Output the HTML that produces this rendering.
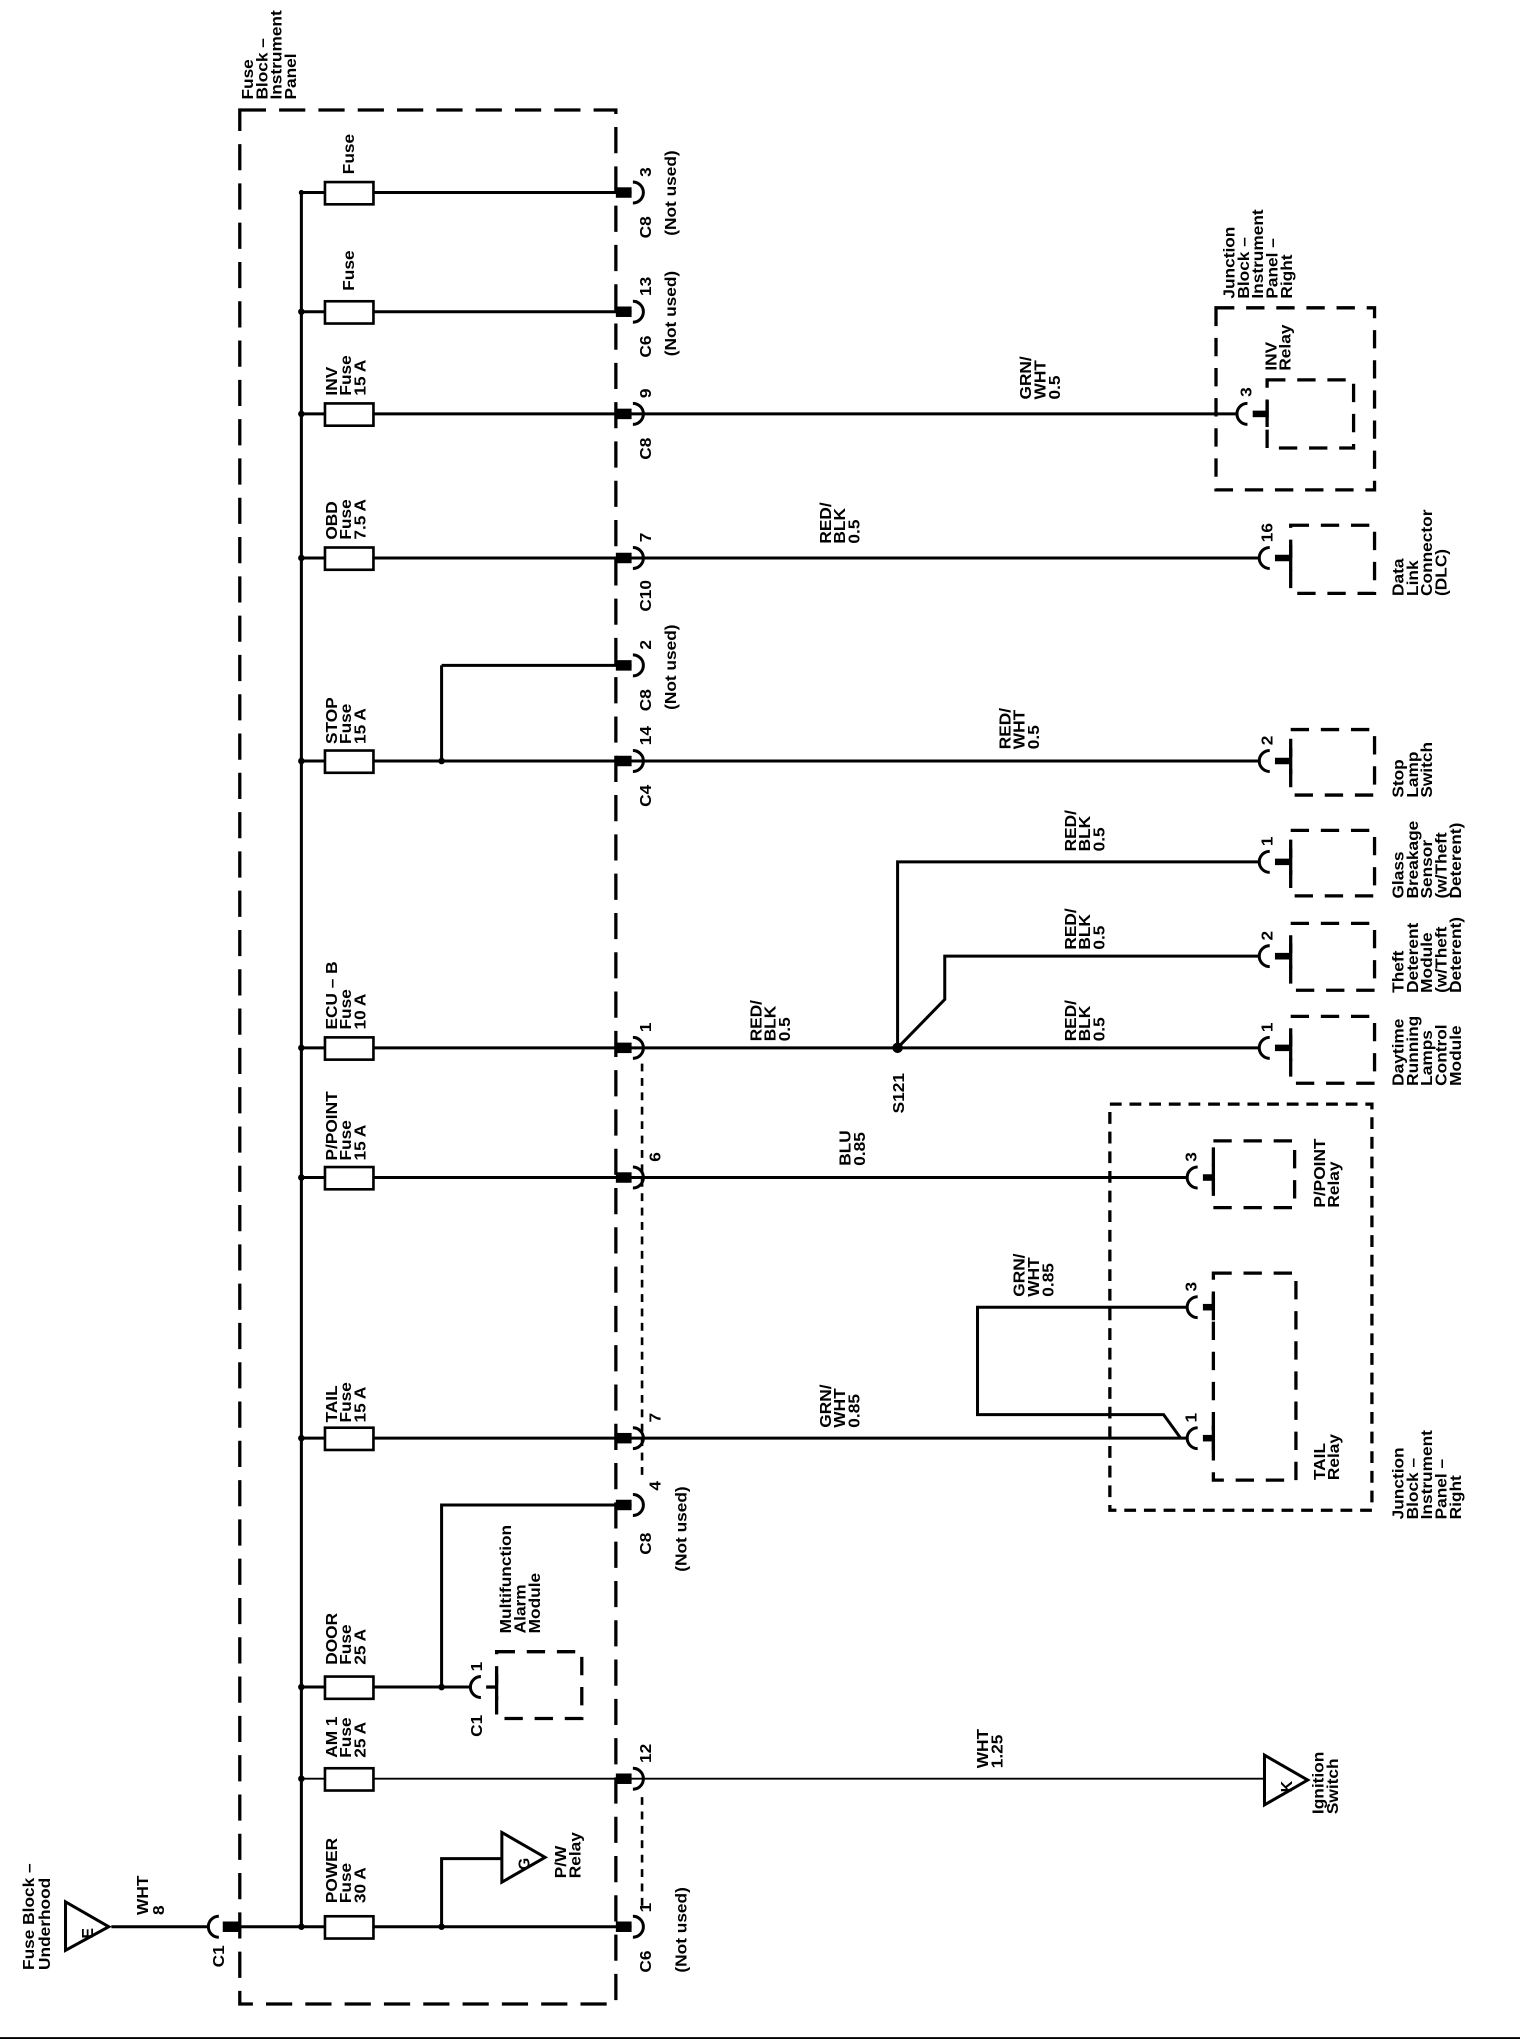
<!DOCTYPE html>
<html><head><meta charset="utf-8"><style>
html,body{margin:0;padding:0;background:#fff;}
svg{display:block;}
text{font-family:"Liberation Sans",Arial,sans-serif;font-weight:bold;font-size:12px;fill:#000;}
</style></head><body>
<svg width="1520" height="2042" viewBox="0 0 1160 1559" preserveAspectRatio="none" xmlns="http://www.w3.org/2000/svg">
<rect width="1160" height="1559" fill="#fff"/>
<line x1="0" y1="1556" x2="1160" y2="1556" stroke="#000" stroke-width="1.5"/>

<rect x="183" y="84" width="287" height="1446" fill="none" stroke="#000" stroke-width="2.5" stroke-dasharray="20 10"/>
<line x1="490" y1="812" x2="490" y2="1128" stroke="#000" stroke-width="2" stroke-dasharray="6 5"/>
<line x1="490" y1="1372" x2="490" y2="1460" stroke="#000" stroke-width="2" stroke-dasharray="6 5"/>

<g stroke="#000" stroke-width="2.3" fill="none">
<line x1="230" y1="147" x2="230" y2="1471"/>
<line x1="230" y1="147" x2="482" y2="147"/>
<line x1="230" y1="238" x2="482" y2="238"/>
<line x1="230" y1="316" x2="944" y2="316"/>
<line x1="230" y1="426" x2="961" y2="426"/>
<line x1="337" y1="508" x2="482" y2="508"/>
<line x1="337" y1="508" x2="337" y2="581"/>
<line x1="230" y1="581" x2="961" y2="581"/>
<line x1="230" y1="800" x2="961" y2="800"/>
<polyline points="685,800 685,658 961,658"/>
<polyline points="685,800 721,763 721,730 961,730"/>
<line x1="230" y1="899" x2="906" y2="899"/>
<line x1="230" y1="1098" x2="906" y2="1098"/>
<polyline points="906,998 746,998 746,1080 888,1080 901,1098"/>
<polyline points="482,1149 337,1149 337,1288"/>
<line x1="230" y1="1288" x2="359" y2="1288"/>
<line x1="85" y1="1471" x2="160" y2="1471"/>
<line x1="182" y1="1471" x2="482" y2="1471"/>
<polyline points="337,1471 337,1419 383,1419"/>
</g>
<g stroke="#000" stroke-width="1.4" fill="none">
<line x1="230" y1="1358" x2="965" y2="1358"/>
</g>
<g fill="#000">
<circle cx="230" cy="147" r="2"/><circle cx="230" cy="238" r="2.5"/><circle cx="230" cy="316" r="2.5"/><circle cx="230" cy="426" r="2.5"/><circle cx="230" cy="581" r="2.5"/><circle cx="230" cy="800" r="2.5"/><circle cx="230" cy="899" r="2.5"/><circle cx="230" cy="1098" r="2.5"/><circle cx="230" cy="1288" r="2.5"/><circle cx="230" cy="1358" r="2.5"/><circle cx="230" cy="1471" r="2.5"/>
<circle cx="337" cy="581" r="2.5"/><circle cx="337" cy="1288" r="2.5"/><circle cx="337" cy="1471" r="2.5"/>
<circle cx="685" cy="800" r="4"/>
</g>
<g fill="#fff" stroke="#000" stroke-width="2">
<rect x="248" y="139" width="37" height="17"/><rect x="248" y="230" width="37" height="17"/><rect x="248" y="308" width="37" height="17"/><rect x="248" y="418" width="37" height="17"/><rect x="248" y="573" width="37" height="17"/><rect x="248" y="792" width="37" height="17"/><rect x="248" y="891" width="37" height="17"/><rect x="248" y="1090" width="37" height="17"/><rect x="248" y="1280" width="37" height="17"/><rect x="248" y="1350" width="37" height="17"/><rect x="248" y="1463" width="37" height="17"/>
</g>
<g fill="#000">
<rect x="470" y="143" width="12" height="8"/><rect x="470" y="234" width="12" height="8"/><rect x="470" y="312" width="12" height="8"/><rect x="470" y="422" width="12" height="8"/><rect x="470" y="504" width="12" height="8"/><rect x="470" y="577" width="12" height="8"/><rect x="470" y="796" width="12" height="8"/><rect x="470" y="895" width="12" height="8"/><rect x="470" y="1094" width="12" height="8"/><rect x="470" y="1145" width="12" height="8"/><rect x="470" y="1354" width="12" height="8"/><rect x="470" y="1467" width="12" height="8"/>
<rect x="170" y="1467" width="13" height="8"/>
</g>
<g fill="none" stroke="#000" stroke-width="2.3">
<path d="M483,139 A8,8 0 0 1 483,155"/><path d="M483,230 A8,8 0 0 1 483,246"/><path d="M483,308 A8,8 0 0 1 483,324"/><path d="M483,418 A8,8 0 0 1 483,434"/><path d="M483,500 A8,8 0 0 1 483,516"/><path d="M483,573 A8,8 0 0 1 483,589"/><path d="M483,792 A8,8 0 0 1 483,808"/><path d="M483,891 A8,8 0 0 1 483,907"/><path d="M483,1090 A8,8 0 0 1 483,1106"/><path d="M483,1141 A8,8 0 0 1 483,1157"/><path d="M483,1350 A8,8 0 0 1 483,1366"/><path d="M483,1463 A8,8 0 0 1 483,1479"/>
<path d="M167,1463 A8,8 0 0 0 167,1479"/>
<path d="M952,308 A8,8 0 0 0 952,324"/>
<path d="M969,418 A8,8 0 0 0 969,434"/>
<path d="M969,573 A8,8 0 0 0 969,589"/>
<path d="M969,650 A8,8 0 0 0 969,666"/>
<path d="M969,722 A8,8 0 0 0 969,738"/>
<path d="M969,792 A8,8 0 0 0 969,808"/>
<path d="M914,891 A8,8 0 0 0 914,907"/>
<path d="M914,990 A8,8 0 0 0 914,1006"/>
<path d="M914,1090 A8,8 0 0 0 914,1106"/>
<path d="M367,1280 A8,8 0 0 0 367,1296"/>
</g>
<g stroke="#000" fill="none">
<line x1="956" y1="316" x2="967" y2="316" stroke-width="5"/><line x1="967" y1="306" x2="967" y2="326" stroke-width="2.5"/>
<line x1="973" y1="426" x2="985" y2="426" stroke-width="5"/><line x1="985" y1="416" x2="985" y2="436" stroke-width="2.5"/>
<line x1="973" y1="581" x2="985" y2="581" stroke-width="5"/><line x1="985" y1="571" x2="985" y2="591" stroke-width="2.5"/>
<line x1="973" y1="658" x2="985" y2="658" stroke-width="5"/><line x1="985" y1="648" x2="985" y2="668" stroke-width="2.5"/>
<line x1="973" y1="730" x2="985" y2="730" stroke-width="5"/><line x1="985" y1="720" x2="985" y2="740" stroke-width="2.5"/>
<line x1="973" y1="800" x2="985" y2="800" stroke-width="5"/><line x1="985" y1="790" x2="985" y2="810" stroke-width="2.5"/>
<line x1="918" y1="899" x2="926" y2="899" stroke-width="5"/><line x1="926" y1="889" x2="926" y2="909" stroke-width="2.5"/>
<line x1="918" y1="998" x2="926" y2="998" stroke-width="5"/><line x1="926" y1="988" x2="926" y2="1008" stroke-width="2.5"/>
<line x1="918" y1="1098" x2="926" y2="1098" stroke-width="5"/><line x1="926" y1="1088" x2="926" y2="1108" stroke-width="2.5"/>
<line x1="371" y1="1288" x2="379" y2="1288" stroke-width="2.5"/><line x1="379" y1="1278" x2="379" y2="1298" stroke-width="2.5"/>
</g>
<g fill="none" stroke="#000" stroke-width="2.5" stroke-dasharray="14 9">
<rect x="928" y="235" width="121" height="139"/>
<rect x="967" y="290" width="66" height="52"/>
<rect x="985" y="401" width="64" height="52"/>
<rect x="985" y="557" width="64" height="50"/>
<rect x="985" y="634" width="64" height="50"/>
<rect x="985" y="705" width="64" height="51"/>
<rect x="985" y="776" width="64" height="51"/>
<rect x="926" y="871" width="62" height="51"/>
<rect x="926" y="972" width="63" height="158"/>
<rect x="379" y="1261" width="65" height="51"/>
</g>
<rect x="847" y="843" width="200" height="310" fill="none" stroke="#000" stroke-width="2.5" stroke-dasharray="9 6"/>
<g fill="#fff" stroke="#000" stroke-width="2.3">
<polygon points="50,1452 50,1489 83,1471"/>
<polygon points="383,1399 383,1437 416,1418"/>
<polygon points="965,1340 965,1378 998,1359"/>
</g>
<g>
<text transform="translate(71,1476) rotate(-90)" text-anchor="middle">E</text>
<text transform="translate(404,1423) rotate(-90)" text-anchor="middle">G</text>
<text transform="translate(986,1364) rotate(-90)" text-anchor="middle">K</text>
</g>

<g>
<text transform="translate(26,1504) rotate(-90) scale(1.1,1)"><tspan x="0">Fuse Block –</tspan><tspan x="0" dy="12">Underhood</tspan></text>
<text transform="translate(113,1462) rotate(-90) scale(1.1,1)"><tspan x="0">WHT</tspan><tspan x="0" dy="12">8</tspan></text>
<text transform="translate(171,1502) rotate(-90) scale(1.1,1)">C1</text>
<text transform="translate(193,76) rotate(-90) scale(1.1,1)"><tspan x="0">Fuse</tspan><tspan x="0" dy="11">Block –</tspan><tspan x="0" dy="11">Instrument</tspan><tspan x="0" dy="11">Panel</tspan></text>

<text transform="translate(270,133) rotate(-90) scale(1.1,1)">Fuse</text>
<text transform="translate(270,222) rotate(-90) scale(1.1,1)">Fuse</text>
<text transform="translate(257,302) rotate(-90) scale(1.1,1)"><tspan x="0">INV</tspan><tspan x="0" dy="11">Fuse</tspan><tspan x="0" dy="11">15 A</tspan></text>
<text transform="translate(257,412) rotate(-90) scale(1.1,1)"><tspan x="0">OBD</tspan><tspan x="0" dy="11">Fuse</tspan><tspan x="0" dy="11">7.5 A</tspan></text>
<text transform="translate(257,568) rotate(-90) scale(1.1,1)"><tspan x="0">STOP</tspan><tspan x="0" dy="11">Fuse</tspan><tspan x="0" dy="11">15 A</tspan></text>
<text transform="translate(257,786) rotate(-90) scale(1.1,1)"><tspan x="0">ECU – B</tspan><tspan x="0" dy="11">Fuse</tspan><tspan x="0" dy="11">10 A</tspan></text>
<text transform="translate(257,886) rotate(-90) scale(1.1,1)"><tspan x="0">P/POINT</tspan><tspan x="0" dy="11">Fuse</tspan><tspan x="0" dy="11">15 A</tspan></text>
<text transform="translate(257,1086) rotate(-90) scale(1.1,1)"><tspan x="0">TAIL</tspan><tspan x="0" dy="11">Fuse</tspan><tspan x="0" dy="11">15 A</tspan></text>
<text transform="translate(257,1271) rotate(-90) scale(1.1,1)"><tspan x="0">DOOR</tspan><tspan x="0" dy="11">Fuse</tspan><tspan x="0" dy="11">25 A</tspan></text>
<text transform="translate(257,1342) rotate(-90) scale(1.1,1)"><tspan x="0">AM 1</tspan><tspan x="0" dy="11">Fuse</tspan><tspan x="0" dy="11">25 A</tspan></text>
<text transform="translate(257,1453) rotate(-90) scale(1.1,1)"><tspan x="0">POWER</tspan><tspan x="0" dy="11">Fuse</tspan><tspan x="0" dy="11">30 A</tspan></text>

<text transform="translate(497,182) rotate(-90) scale(1.1,1)">C8</text><text transform="translate(497,135) rotate(-90) scale(1.1,1)">3</text><text transform="translate(516,180) rotate(-90) scale(1.1,1)">(Not used)</text>
<text transform="translate(497,273) rotate(-90) scale(1.1,1)">C6</text><text transform="translate(497,226) rotate(-90) scale(1.1,1)">13</text><text transform="translate(516,272) rotate(-90) scale(1.1,1)">(Not used)</text>
<text transform="translate(497,351) rotate(-90) scale(1.1,1)">C8</text><text transform="translate(497,304) rotate(-90) scale(1.1,1)">9</text>
<text transform="translate(497,467) rotate(-90) scale(1.1,1)">C10</text><text transform="translate(497,414) rotate(-90) scale(1.1,1)">7</text>
<text transform="translate(497,543) rotate(-90) scale(1.1,1)">C8</text><text transform="translate(497,496) rotate(-90) scale(1.1,1)">2</text><text transform="translate(516,542) rotate(-90) scale(1.1,1)">(Not used)</text>
<text transform="translate(497,616) rotate(-90) scale(1.1,1)">C4</text><text transform="translate(497,569) rotate(-90) scale(1.1,1)">14</text>
<text transform="translate(497,788) rotate(-90) scale(1.1,1)">1</text>
<text transform="translate(504,887) rotate(-90) scale(1.1,1)">6</text>
<text transform="translate(504,1086) rotate(-90) scale(1.1,1)">7</text>
<text transform="translate(497,1187) rotate(-90) scale(1.1,1)">C8</text><text transform="translate(504,1138) rotate(-90) scale(1.1,1)">4</text><text transform="translate(524,1200) rotate(-90) scale(1.1,1)">(Not used)</text>
<text transform="translate(497,1346) rotate(-90) scale(1.1,1)">12</text>
<text transform="translate(497,1506) rotate(-90) scale(1.1,1)">C6</text><text transform="translate(497,1460) rotate(-90) scale(1.1,1)">1</text><text transform="translate(524,1506) rotate(-90) scale(1.1,1)">(Not used)</text>

<text transform="translate(787,305) rotate(-90) scale(1.1,1)"><tspan x="0">GRN/</tspan><tspan x="0" dy="11">WHT</tspan><tspan x="0" dy="11">0.5</tspan></text>
<text transform="translate(634,415) rotate(-90) scale(1.1,1)"><tspan x="0">RED/</tspan><tspan x="0" dy="11">BLK</tspan><tspan x="0" dy="11">0.5</tspan></text>
<text transform="translate(771,572) rotate(-90) scale(1.1,1)"><tspan x="0">RED/</tspan><tspan x="0" dy="11">WHT</tspan><tspan x="0" dy="11">0.5</tspan></text>
<text transform="translate(821,650) rotate(-90) scale(1.1,1)"><tspan x="0">RED/</tspan><tspan x="0" dy="11">BLK</tspan><tspan x="0" dy="11">0.5</tspan></text>
<text transform="translate(821,725) rotate(-90) scale(1.1,1)"><tspan x="0">RED/</tspan><tspan x="0" dy="11">BLK</tspan><tspan x="0" dy="11">0.5</tspan></text>
<text transform="translate(821,795) rotate(-90) scale(1.1,1)"><tspan x="0">RED/</tspan><tspan x="0" dy="11">BLK</tspan><tspan x="0" dy="11">0.5</tspan></text>
<text transform="translate(581,795) rotate(-90) scale(1.1,1)"><tspan x="0">RED/</tspan><tspan x="0" dy="11">BLK</tspan><tspan x="0" dy="11">0.5</tspan></text>
<text transform="translate(690,850) rotate(-90) scale(1.1,1)">S121</text>
<text transform="translate(649,890) rotate(-90) scale(1.1,1)"><tspan x="0">BLU</tspan><tspan x="0" dy="11">0.85</tspan></text>
<text transform="translate(782,990) rotate(-90) scale(1.1,1)"><tspan x="0">GRN/</tspan><tspan x="0" dy="11">WHT</tspan><tspan x="0" dy="11">0.85</tspan></text>
<text transform="translate(634,1090) rotate(-90) scale(1.1,1)"><tspan x="0">GRN/</tspan><tspan x="0" dy="11">WHT</tspan><tspan x="0" dy="11">0.85</tspan></text>
<text transform="translate(754,1350) rotate(-90) scale(1.1,1)"><tspan x="0">WHT</tspan><tspan x="0" dy="11">1.25</tspan></text>

<text transform="translate(942,228) rotate(-90) scale(1.1,1)"><tspan x="0">Junction</tspan><tspan x="0" dy="11">Block –</tspan><tspan x="0" dy="11">Instrument</tspan><tspan x="0" dy="11">Panel –</tspan><tspan x="0" dy="11">Right</tspan></text>
<text transform="translate(974,283) rotate(-90) scale(1.1,1)"><tspan x="0">INV</tspan><tspan x="0" dy="11">Relay</tspan></text>
<text transform="translate(955,303) rotate(-90) scale(1.1,1)">3</text>
<text transform="translate(971,414) rotate(-90) scale(1.1,1)">16</text>
<text transform="translate(1071,455) rotate(-90) scale(1.1,1)"><tspan x="0">Data</tspan><tspan x="0" dy="11">Link</tspan><tspan x="0" dy="11">Connector</tspan><tspan x="0" dy="11">(DLC)</tspan></text>
<text transform="translate(971,569) rotate(-90) scale(1.1,1)">2</text>
<text transform="translate(1071,609) rotate(-90) scale(1.1,1)"><tspan x="0">Stop</tspan><tspan x="0" dy="11">Lamp</tspan><tspan x="0" dy="11">Switch</tspan></text>
<text transform="translate(971,646) rotate(-90) scale(1.1,1)">1</text>
<text transform="translate(1071,686) rotate(-90) scale(1.1,1)"><tspan x="0">Glass</tspan><tspan x="0" dy="11">Breakage</tspan><tspan x="0" dy="11">Sensor</tspan><tspan x="0" dy="11">(w/Theft</tspan><tspan x="0" dy="11">Deterent)</tspan></text>
<text transform="translate(971,718) rotate(-90) scale(1.1,1)">2</text>
<text transform="translate(1071,758) rotate(-90) scale(1.1,1)"><tspan x="0">Theft</tspan><tspan x="0" dy="11">Deterent</tspan><tspan x="0" dy="11">Module</tspan><tspan x="0" dy="11">(w/Theft</tspan><tspan x="0" dy="11">Deterent)</tspan></text>
<text transform="translate(971,788) rotate(-90) scale(1.1,1)">1</text>
<text transform="translate(1071,829) rotate(-90) scale(1.1,1)"><tspan x="0">Daytime</tspan><tspan x="0" dy="11">Running</tspan><tspan x="0" dy="11">Lamps</tspan><tspan x="0" dy="11">Control</tspan><tspan x="0" dy="11">Module</tspan></text>
<text transform="translate(913,887) rotate(-90) scale(1.1,1)">3</text>
<text transform="translate(1011,922) rotate(-90) scale(1.1,1)"><tspan x="0">P/POINT</tspan><tspan x="0" dy="11">Relay</tspan></text>
<text transform="translate(913,986) rotate(-90) scale(1.1,1)">3</text>
<text transform="translate(913,1086) rotate(-90) scale(1.1,1)">1</text>
<text transform="translate(1011,1130) rotate(-90) scale(1.1,1)"><tspan x="0">TAIL</tspan><tspan x="0" dy="11">Relay</tspan></text>
<text transform="translate(1071,1160) rotate(-90) scale(1.1,1)"><tspan x="0">Junction</tspan><tspan x="0" dy="11">Block –</tspan><tspan x="0" dy="11">Instrument</tspan><tspan x="0" dy="11">Panel –</tspan><tspan x="0" dy="11">Right</tspan></text>
<text transform="translate(1010,1385) rotate(-90) scale(1.1,1)"><tspan x="0">Ignition</tspan><tspan x="0" dy="11">Switch</tspan></text>
<text transform="translate(368,1326) rotate(-90) scale(1.1,1)">C1</text>
<text transform="translate(368,1276) rotate(-90) scale(1.1,1)">1</text>
<text transform="translate(390,1247) rotate(-90) scale(1.1,1)"><tspan x="0">Multifunction</tspan><tspan x="0" dy="11">Alarm</tspan><tspan x="0" dy="11">Module</tspan></text>
<text transform="translate(432,1434) rotate(-90) scale(1.1,1)"><tspan x="0">P/W</tspan><tspan x="0" dy="11">Relay</tspan></text>
</g>
</svg>
</body></html>
